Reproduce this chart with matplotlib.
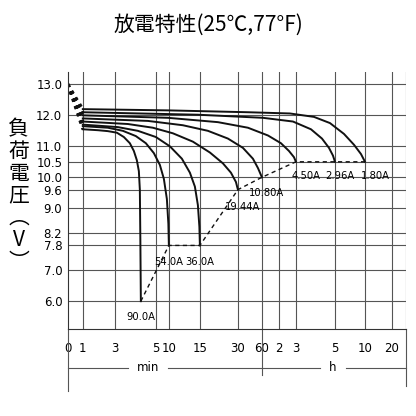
import numpy as np
import matplotlib.pyplot as plt

plt.rcParams['font.family'] = ['Noto Sans CJK JP', 'DejaVu Sans']

# x axis is a non-uniform time scale: tick labels and their positions
x_labels = ['0', '1', '3', '5', '10', '15', '30', '60', '2', '3', '5', '10', '20']
x_pos = [0, 15, 47, 88, 101, 132, 170, 194, 211, 228, 267, 297, 324]
y_ticks = [13.0, 12.0, 11.0, 10.5, 10.0, 9.6, 9.0, 8.2, 7.8, 7.0, 6.0]

# discharge curves: (positions, volts)
curves = {
    '90.0A': ([15, 30, 40, 49, 56, 62, 66, 69, 71, 72, 72.5, 73],
              [11.55, 11.52, 11.49, 11.44, 11.3, 11.1, 10.85, 10.55, 10.2, 9.6, 8.0, 6.0]),
    '54.0A': ([15, 40, 55, 68, 78, 86, 92, 96, 99, 100.5, 101],
              [11.65, 11.6, 11.5, 11.33, 11.1, 10.78, 10.4, 9.95, 9.3, 8.5, 7.8]),
    '36.0A': ([15, 50, 70, 88, 102, 114, 122, 127, 130, 131.5, 132],
              [11.7, 11.62, 11.5, 11.3, 11.0, 10.6, 10.15, 9.7, 9.1, 8.4, 7.8]),
    '19.44A': ([15, 60, 85, 105, 125, 142, 155, 163, 168, 170],
               [11.8, 11.72, 11.6, 11.42, 11.15, 10.8, 10.45, 10.15, 9.85, 9.6]),
    '10.80A': ([15, 80, 115, 140, 160, 175, 185, 190, 194],
               [11.9, 11.82, 11.68, 11.5, 11.25, 10.95, 10.6, 10.3, 10.0]),
    '4.50A': ([15, 100, 150, 180, 200, 213, 221, 226, 228],
              [12.0, 11.92, 11.78, 11.6, 11.35, 11.1, 10.85, 10.65, 10.5]),
    '2.96A': ([15, 130, 195, 225, 243, 254, 261, 265, 267],
              [12.1, 12.02, 11.92, 11.8, 11.55, 11.25, 10.95, 10.7, 10.5]),
    '1.80A': ([15, 100, 180, 222, 246, 262, 276, 286, 293, 297],
              [12.2, 12.16, 12.1, 12.06, 11.95, 11.75, 11.4, 11.05, 10.75, 10.5]),
}
label_offsets = {
    '90.0A': (0, -0.5), '54.0A': (0, -0.55), '36.0A': (0, -0.55),
    '19.44A': (5, -0.55), '10.80A': (5, -0.5), '4.50A': (10, -0.45),
    '2.96A': (5, -0.45), '1.80A': (10, -0.45),
}

fig = plt.figure(figsize=(4.16, 4.16), dpi=100)
ax = fig.add_axes([0.163, 0.209, 0.813, 0.618])
ax.set_xlim(0, 338)
ax.set_ylim(5.1, 13.4)

for p in x_pos[1:] + [338]:
    ax.axvline(p, color='#555555', lw=0.8, zorder=0)
for v in y_ticks:
    ax.axhline(v, color='#555555', lw=0.8, zorder=0)

for name, (xs, vs) in curves.items():
    ax.plot(xs, vs, color='#111111', lw=1.4, solid_joinstyle='round')
    ax.plot([0, xs[0]], [13.0, vs[0]], color='#111111', lw=2.2, ls=(0, (1, 1.5)))
    dx, dy = label_offsets[name]
    ax.text(xs[-1] + dx, vs[-1] + dy, name, ha='center', va='center',
            fontsize=8, family='DejaVu Sans', stretch='condensed')

ends_x = [curves[k][0][-1] for k in curves]
ends_v = [curves[k][1][-1] for k in curves]
ax.plot(ends_x, ends_v, color='#111111', lw=1.0, ls=(0, (3, 2.5)))

ax.set_yticks(y_ticks)
ax.set_yticklabels([f'{v:.1f}' for v in y_ticks], fontsize=8.5, family='DejaVu Sans')
ax.set_xticks(x_pos)
ax.set_xticklabels(x_labels, fontsize=8.5, family='DejaVu Sans')
ax.tick_params(length=0, axis='both')
ax.tick_params(axis='x', pad=9)
ax.tick_params(axis='y', pad=4)
for s in ['top', 'right']:
    ax.spines[s].set_visible(False)
ax.spines['left'].set_color('#333333')
ax.spines['bottom'].set_color('#333333')

# min / h bracket below the axis
t = ax.get_xaxis_transform()
kw = dict(color='#555555', lw=0.8, transform=t, clip_on=False)
ax.plot([0, 0], [0, -0.24], **kw)
ax.plot([194, 194], [0, -0.18], **kw)
ax.plot([338, 338], [0, -0.22], **kw)
ax.plot([0, 60], [-0.15, -0.15], **kw)
ax.plot([100, 194], [-0.15, -0.15], **kw)
ax.plot([194, 252], [-0.15, -0.15], **kw)
ax.plot([278, 338], [-0.15, -0.15], **kw)
ax.text(80, -0.15, 'min', transform=t, ha='center', va='center', fontsize=8.5, family='DejaVu Sans')
ax.text(265, -0.15, 'h', transform=t, ha='center', va='center', fontsize=8.5, family='DejaVu Sans')

fig.text(0.5, 0.94, '放電特性(25℃,77°F)', ha='center', va='center', fontsize=15)
fig.text(0.045, 0.53, '負\n荷\n電\n圧\n︵\nV\n︶', ha='center', va='center', fontsize=15, linespacing=1.0)

fig.savefig('out.png', dpi=100, facecolor='white')
